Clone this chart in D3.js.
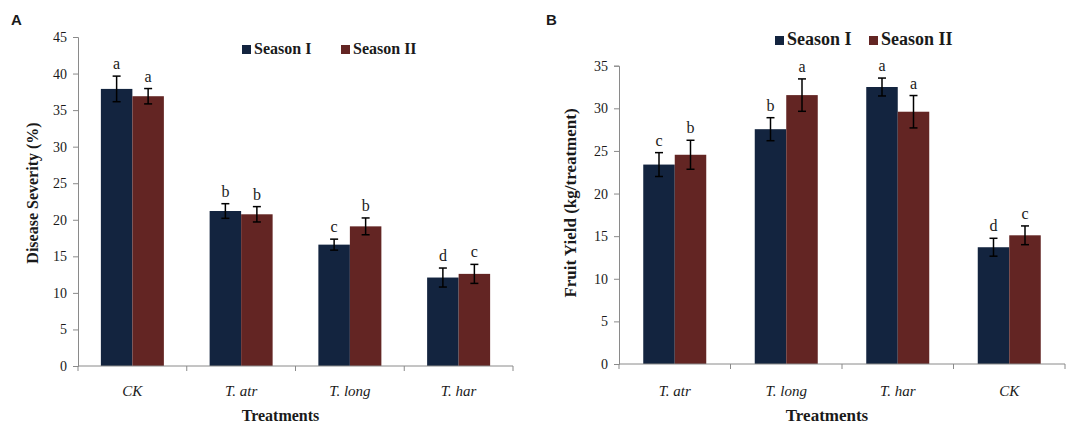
<!DOCTYPE html>
<html>
<head>
  <meta charset="utf-8">
  <script src="https://d3js.org/d3.v7.min.js"></script>
  <style>
    body { margin: 0; background: #fff; }
    svg text { font-family: "Liberation Serif", "Times New Roman", serif !important; fill: #1a1a1a; }
    svg text.panel-letter { font-family: "Liberation Sans", Arial, sans-serif !important; }
    .axis path, .axis line { stroke: #8a8a8a; }
    .axis text { font-size: 14px; fill: #1a1a1a; }
  </style>
</head>
<body>
<svg id="chart" width="1072" height="425"></svg>
<script>
  // panel A - disease severity
  const catsA = ["CK", "T. atr", "T. long", "T. har"];
  const s1A = [37.9, 21.2, 16.6, 12.1];
  const s2A = [36.9, 20.75, 19.1, 12.6];
  const e1A = [1.75, 1.0, 0.75, 1.3];
  const e2A = [1.05, 1.05, 1.15, 1.3];
  const l1A = ["a", "b", "c", "d"];
  const l2A = ["a", "b", "b", "c"];
  const ticksA = [0, 5, 10, 15, 20, 25, 30, 35, 40, 45];

  // panel B - fruit yield
  const catsB = ["T. atr", "T. long", "T. har", "CK"];
  const s1B = [23.4, 27.55, 32.5, 13.7];
  const s2B = [24.55, 31.55, 29.6, 15.1];
  const e1B = [1.4, 1.35, 1.05, 1.05];
  const e2B = [1.7, 1.9, 1.9, 1.1];
  const l1B = ["c", "b", "a", "d"];
  const l2B = ["b", "a", "a", "c"];
  const ticksB = [0, 5, 10, 15, 20, 25, 30, 35];

  const seasons = ["Season I", "Season II"];
  const colors = ["#13243f", "#632523"];

  const svg = d3.select("svg#chart");

  function drawPanel(p) {
    const x = d3.scaleBand().domain(p.cats).range([p.x0, p.x1]);
    const y = d3.scaleLinear().domain([0, p.ymax]).range([p.y0, p.y1]);
    const barW = 31.5;

    const g = svg.append("g");

    // bars
    [p.s1, p.s2].forEach((vals, k) => {
      g.selectAll(null).data(vals).join("rect")
        .attr("x", (d, i) => x(p.cats[i]) + x.bandwidth() / 2 - barW + k * barW)
        .attr("y", d => y(d))
        .attr("width", barW)
        .attr("height", d => y(0) - y(d))
        .attr("fill", colors[k]);
    });

    // error bars + letters
    [[p.s1, p.e1, p.l1], [p.s2, p.e2, p.l2]].forEach(([vals, errs, lets], k) => {
      vals.forEach((v, i) => {
        const cx = x(p.cats[i]) + x.bandwidth() / 2 - barW / 2 + k * barW;
        const top = y(v + errs[i]), bot = y(v - errs[i]);
        g.append("line").attr("x1", cx).attr("x2", cx).attr("y1", top).attr("y2", bot)
          .attr("stroke", "#000").attr("stroke-width", 1.5);
        [top, bot].forEach(yy => g.append("line")
          .attr("x1", cx - 4).attr("x2", cx + 4).attr("y1", yy).attr("y2", yy)
          .attr("stroke", "#000").attr("stroke-width", 1.5));
        g.append("text").attr("x", cx).attr("y", top - 7)
          .attr("text-anchor", "middle").style("font-size", "16px")
          .text(lets[i]);
      });
    });

    // axes
    const leftAxis = d3.axisLeft(y).tickValues(p.ticks).tickSize(5).tickPadding(6);
    g.append("g").attr("class", "axis")
      .attr("transform", "translate(" + p.x0 + ",0)")
      .call(leftAxis)
      .attr("font-family", null);

    const bottomAxis = d3.axisBottom(x).tickSize(0).tickFormat("");
    const bx = g.append("g").attr("class", "axis")
      .attr("transform", "translate(0," + p.y0 + ")")
      .call(bottomAxis);
    bx.select(".domain").attr("d", "M" + p.x0 + ",0H" + p.x1);
    // tick marks between categories
    g.selectAll(null).data(d3.range(p.cats.length + 1)).join("line")
      .attr("x1", i => p.x0 + i * x.step()).attr("x2", i => p.x0 + i * x.step())
      .attr("y1", p.y0).attr("y2", p.y0 + 5)
      .attr("stroke", "#8a8a8a");

    // category labels
    g.selectAll(null).data(p.cats).join("text")
      .attr("x", d => x(d) + x.bandwidth() / 2)
      .attr("y", 396)
      .attr("text-anchor", "middle")
      .style("font-size", "15px").style("font-style", "italic")
      .text(d => d);

    // titles
    g.append("text").attr("x", (p.x0 + p.x1) / 2 - 15).attr("y", 421)
      .attr("text-anchor", "middle").style("font-size", p.titleSize + "px").style("font-weight", "bold")
      .text("Treatments");

    g.append("text").attr("transform", "translate(" + p.ylabX + "," + p.ylabY + ") rotate(-90)")
      .attr("text-anchor", "middle").style("font-size", p.titleSize + "px").style("font-weight", "bold")
      .text(p.ylabel);

    g.append("text").attr("class", "panel-letter").attr("x", p.letterX).attr("y", 25)
      .style("font-size", "15px").style("font-weight", "bold")
      .text(p.letter);

    // legend
    seasons.forEach((s, k) => {
      g.append("rect").attr("x", p.legX[k]).attr("y", p.legY - 9).attr("width", 9).attr("height", 9)
        .attr("fill", colors[k]);
      g.append("text").attr("x", p.legX[k] + 12).attr("y", p.legY)
        .style("font-size", p.legSize + "px").style("font-weight", "bold")
        .text(s);
    });
  }

  drawPanel({
    cats: catsA, s1: s1A, s2: s2A, e1: e1A, e2: e2A, l1: l1A, l2: l2A, ticks: ticksA, ymax: 45,
    x0: 78, x1: 513, y0: 366, y1: 37,
    ylabel: "Disease Severity (%)", ylabX: 38, ylabY: 193, titleSize: 16,
    letter: "A", letterX: 11, legX: [242, 341], legY: 54, legSize: 16
  });

  drawPanel({
    cats: catsB, s1: s1B, s2: s2B, e1: e1B, e2: e2B, l1: l1B, l2: l2B, ticks: ticksB, ymax: 35,
    x0: 619, x1: 1065, y0: 364, y1: 65.7,
    ylabel: "Fruit Yield (kg/treatment)", ylabX: 576, ylabY: 203, titleSize: 17,
    letter: "B", letterX: 546, legX: [775, 869], legY: 45, legSize: 18
  });
</script>
</body>
</html>
